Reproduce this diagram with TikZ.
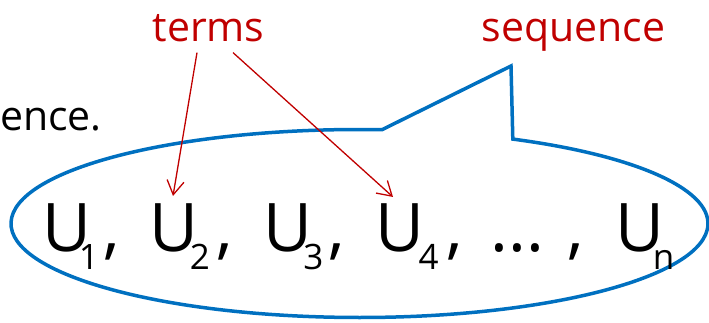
\documentclass[tikz,border=0pt]{standalone}
\usepackage{fontspec}
\setmainfont{Open Sans}
\usepackage{xcolor}
\usepackage{tikz}
\usetikzlibrary{arrows.meta}
\definecolor{termred}{HTML}{C00000}
\definecolor{seqblue}{HTML}{0070C0}

\begin{document}
\begin{tikzpicture}[x=1pt, y=1pt,
    lbl/.style={inner sep=0pt, anchor=base, font=\fontsize{41}{48}\selectfont},
    big/.style={inner sep=0pt, anchor=base, font=\fontsize{67}{80}\selectfont},
    idx/.style={inner sep=0pt, anchor=base, font=\fontsize{35}{40}\selectfont},
    ptr/.style={termred, line width=1.3pt, -{Straight Barb[length=14pt, width=17pt]}}]
  \useasboundingbox (0,0) rectangle (709,322);
  \coordinate (c) at (359.5,98.5);
  \coordinate (tip) at (511,256);
  \draw[seqblue, line width=3.5pt, line join=miter] (c) ++(86.3:348.5 and 94)
    arc[start angle=86.3, end angle=423.9, x radius=348.5, y radius=94] -- (tip) -- cycle;
  \node[lbl, anchor=base west] (ence) at (0,192) {ence.};
  \node[lbl, termred] (terms) at (208.5,280) {terms};
  \node[lbl, termred] (seq) at (573.5,280) {sequence};
  \node[big] (u1) at (67,71) {U};   \node[idx] (s1) at (89,53) {1};  \node[big] (k1) at (112,71) {,};
  \node[big] (u2) at (174,71) {U};  \node[idx] (s2) at (200,53) {2}; \node[big] (k2) at (225,71) {,};
  \node[big] (u3) at (287.5,71) {U}; \node[idx] (s3) at (313.5,53) {3};  \node[big] (k3) at (337,71) {,};
  \node[big] (u4) at (400,71) {U};  \node[idx] (s4) at (428.5,53) {4};  \node[big] (k4) at (455,71) {,};
  \node[big] (dots) at (517.5,71) {...}; \node[big] (k5) at (576,71) {,};
  \node[big] (un) at (640,71) {U};  \node[idx] (sn) at (663.5,53) {n};
  \draw[ptr] ([shift={(-11.5pt,-10pt)}]terms.south) -- ([shift={(-1pt,7pt)}]u2.north);
  \draw[ptr] ([shift={(24.5pt,-10pt)}]terms.south) -- ([shift={(-7pt,6pt)}]u4.north);
\end{tikzpicture}
\end{document}
